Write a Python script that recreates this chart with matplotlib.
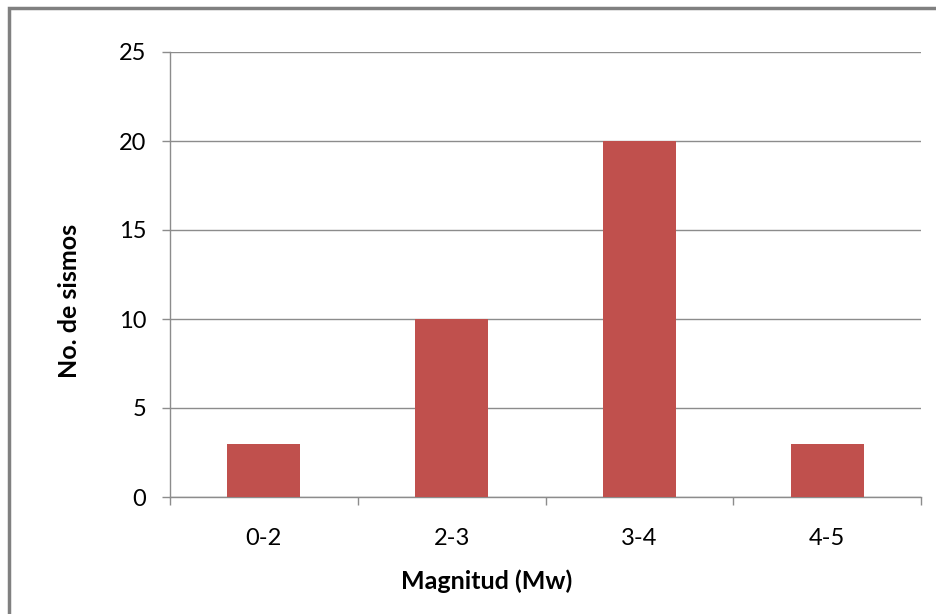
import numpy as np
import matplotlib.pyplot as plt
from matplotlib.patches import Rectangle

# datos
categorias = ["0-2", "2-3", "3-4", "4-5"]
sismos = [3, 10, 20, 3]
yticks = [0, 5, 10, 15, 20, 25]

plt.rcParams['font.family'] = ['Lato', 'DejaVu Sans']

fig = plt.figure(figsize=(9.36, 6.14), dpi=100)
ax = fig.add_axes([170/936, 117/614, 751/936, 445/614])

gris = '#8c8c8c'
x = np.arange(len(categorias))
ax.bar(x, sismos, width=0.39, color='#C0504D', zorder=3)

ax.set_xlim(-0.5, len(categorias) - 0.5)
ax.set_ylim(0, 25)
ax.set_yticks(yticks)
ax.yaxis.grid(True, color=gris, linewidth=1)
ax.set_axisbelow(True)

# ticks del eje x en los limites de las categorias
ax.set_xticks(np.arange(-0.5, len(categorias)), minor=False)
ax.set_xticklabels([])
ax.set_xticks(x, minor=True)
ax.set_xticklabels(categorias, minor=True, fontsize=17)
ax.tick_params(axis='x', which='minor', length=0, pad=22)
ax.tick_params(axis='x', which='major', length=6, color=gris, width=1)
ax.tick_params(axis='y', length=6, color=gris, width=1, labelsize=17, pad=11)

for s in ['top', 'right']:
    ax.spines[s].set_visible(False)
for s in ['left', 'bottom']:
    ax.spines[s].set_color(gris)
    ax.spines[s].set_linewidth(1)

ax.set_xlabel("Magnitud (Mw)", fontsize=18, fontweight='bold')
ax.set_ylabel("No. de sismos", fontsize=18, fontweight='bold')
ax.xaxis.set_label_coords(0.422, -0.163)
ax.yaxis.set_label_coords(-0.118, 0.44)

# marco del grafico
fig.patches.append(Rectangle((9/936, -0.05), 1.1, (614-8)/614 + 0.05,
                             transform=fig.transFigure, fill=False,
                             edgecolor='#808080', linewidth=2.5))

fig.savefig("out.png", dpi=100)
